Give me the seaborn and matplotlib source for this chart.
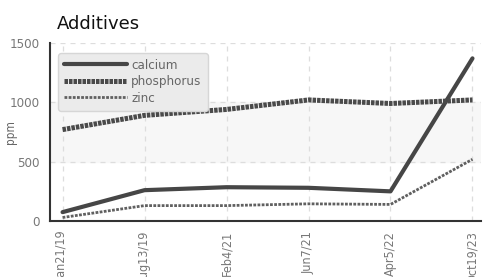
import matplotlib
matplotlib.use("Agg")
import matplotlib.pyplot as plt
import seaborn as sns
import pandas as pd

# data
dates = ["Jan21/19", "Aug13/19", "Feb4/21", "Jun7/21", "Apr5/22", "Oct19/23"]
calcium = [75, 260, 285, 280, 250, 1370]
phosphorus = [770, 890, 940, 1020, 990, 1020]
zinc = [30, 130, 130, 145, 140, 520]

df = pd.DataFrame({"date": dates, "calcium": calcium, "phosphorus": phosphorus, "zinc": zinc})
long_df = df.melt(id_vars="date", var_name="additive", value_name="ppm")
long_df["x"] = long_df["date"].map({d: i for i, d in enumerate(dates)})

sns.set_theme(style="white")
plt.rcParams["font.family"] = ["DejaVu Sans"]
plt.rcParams["font.stretch"] = "condensed"

fig, ax = plt.subplots(figsize=(4.88, 2.77), dpi=100)
fig.subplots_adjust(left=0.103, right=0.985, top=0.845, bottom=0.202)

styles = {
    "calcium": dict(lw=3.0, ls="-", color="#464646"),
    "phosphorus": dict(lw=3.6, ls=(0, (0.7, 0.2)), color="#4a4a4a"),
    "zinc": dict(lw=2.0, ls=(0, (1.0, 0.5)), color="#606060"),
}
for name, st in styles.items():
    sub = long_df[long_df["additive"] == name]
    sns.lineplot(data=sub, x="x", y="ppm", ax=ax, color=st["color"], label=name,
                 linewidth=st["lw"], linestyle=st["ls"])

ax.axhspan(500, 1000, color="#f7f7f7", zorder=0)
ax.set_ylim(0, 1500)
ax.set_xlim(-0.15, len(dates) - 1 + 0.1)
ax.set_yticks([0, 500, 1000, 1500])
ax.set_xticks(range(len(dates)))
ax.set_xticklabels(dates, rotation=90)
ax.tick_params(axis="both", colors="#333333", labelcolor="#777777", labelsize=9.5,
               length=4, width=1.2, direction="out")
ax.tick_params(axis="x", pad=3, labelsize=9)
ax.grid(True, ls=(0, (4, 4)), color="#dddddd", lw=0.9)
ax.set_axisbelow(True)
for s in ["top", "right"]:
    ax.spines[s].set_visible(False)
for s in ["left", "bottom"]:
    ax.spines[s].set_color("#333333")
    ax.spines[s].set_linewidth(1.5)
ax.set_xlabel("")
ax.set_ylabel("ppm", color="#666666", fontsize=8.5)
ax.yaxis.set_label_coords(-0.078, 0.5)
ax.set_title("Additives", loc="left", fontsize=13, color="#111111", pad=10,
             x=0.015, fontstretch="normal")

leg = ax.legend(loc="upper left", bbox_to_anchor=(0.015, 0.95), frameon=True, fancybox=True,
                shadow=False, fontsize=9.5, handlelength=4.8, handletextpad=0.3,
                labelspacing=0.25, borderpad=0.45, borderaxespad=0.1)
leg.get_frame().set_facecolor("#ebebeb")
leg.get_frame().set_edgecolor("#d6d6d6")
leg.get_frame().set_alpha(1)
for t in leg.get_texts():
    t.set_color("#666666")

fig.savefig("out.png", dpi=100)
